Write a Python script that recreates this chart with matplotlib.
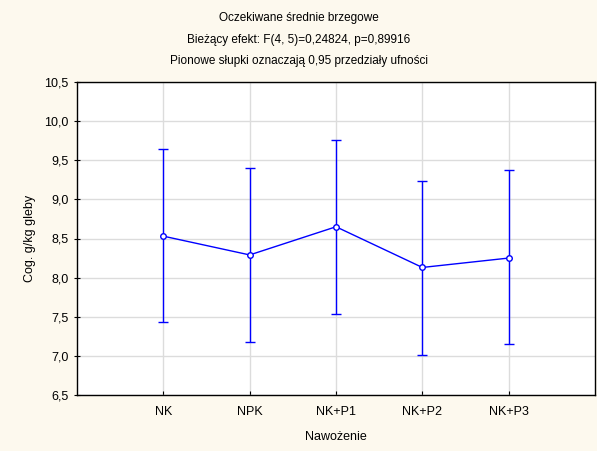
import numpy as np
import matplotlib.pyplot as plt
from matplotlib.ticker import FuncFormatter

# --- DADOS ---
kategorie = ['NK', 'NPK', 'NK+P1', 'NK+P2', 'NK+P3']
srednie = [8.53, 8.29, 8.65, 8.13, 8.25]
dolne = [7.43, 7.18, 7.54, 7.01, 7.15]
gorne = [9.65, 9.40, 9.76, 9.23, 9.37]
yticks = [6.5, 7.0, 7.5, 8.0, 8.5, 9.0, 9.5, 10.0, 10.5]

plt.rcParams['font.family'] = ['Liberation Sans', 'DejaVu Sans']
tlo = '#fdf9ee'

fig = plt.figure(figsize=(5.97, 4.51), dpi=100, facecolor=tlo)
ax = fig.add_axes([77 / 597, 1 - 395 / 451, 518 / 597, 313 / 451])
ax.set_facecolor('white')

x = np.arange(1, len(kategorie) + 1)
sr = np.array(srednie)
err = [sr - np.array(dolne), np.array(gorne) - sr]
ax.errorbar(x, sr, yerr=err, color='#0000ff', lw=1.0, elinewidth=1.0,
            capsize=3.3, capthick=1.0, marker='o', markersize=4,
            markerfacecolor='white', markeredgecolor='#0000ff', zorder=3)

ax.set_xlim(0, 6)
ax.set_ylim(6.5, 10.5)
ax.set_xticks(x)
ax.set_xticklabels(kategorie)
ax.set_yticks(yticks)
ax.yaxis.set_major_formatter(FuncFormatter(lambda v, p: f'{v:.1f}'.replace('.', ',')))
ax.grid(True, color='#dcdcdc', lw=1.0)
ax.set_axisbelow(True)
ax.tick_params(axis='x', direction='in', length=3, labelsize=9, pad=8)
ax.tick_params(axis='y', direction='inout', length=4, labelsize=9, pad=4)
for s in ax.spines.values():
    s.set_linewidth(1.0)
    s.set_color('black')

ax.set_xlabel('Nawożenie', fontsize=9, labelpad=9)
ax.set_ylabel('Cog. g/kg gleby', fontsize=9, labelpad=6)

fig.text(0.5, 1 - 18 / 451, 'Oczekiwane średnie brzegowe', ha='center', va='center', fontsize=8.5)
fig.text(0.5, 1 - 40 / 451, 'Bieżący efekt: F(4, 5)=0,24824, p=0,89916', ha='center', va='center', fontsize=8.5)
fig.text(0.5, 1 - 61 / 451, 'Pionowe słupki oznaczają 0,95 przedziały ufności', ha='center', va='center', fontsize=8.5)

fig.savefig('out.png', dpi=100, facecolor=tlo)
